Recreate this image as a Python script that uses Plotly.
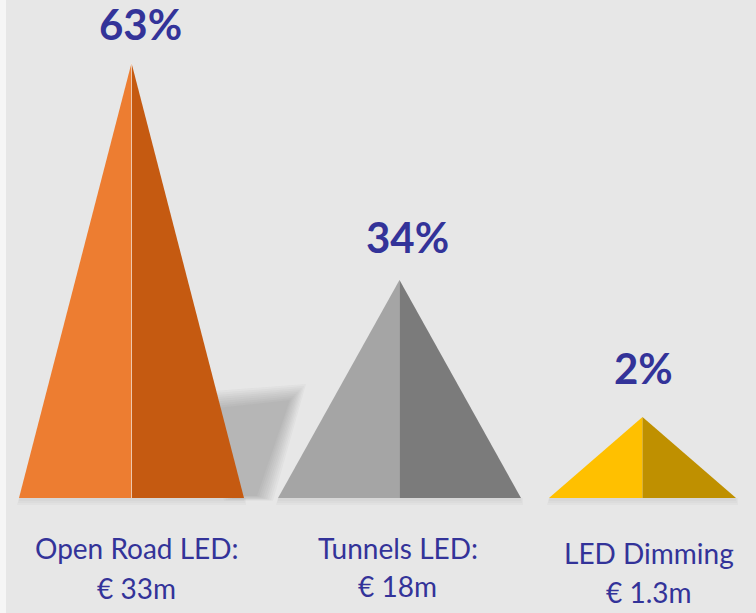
import plotly.graph_objects as go

# ---- data ----
categories = ["Open Road LED:", "Tunnels LED:", "LED Dimming"]
amounts = ["€ 33m", "€ 18m", "€ 1.3m"]
shares = [63, 34, 2]                 # percent labels
pyramid_height = [435, 218, 81]      # visual pyramid heights

# ---- styles / layout ----
centers = [131.5, 399.5, 642.5]
half_widths = [112.5, 121.5, 93.5]
base_y = 115
left_colors = ["#ED7D31", "#A5A5A5", "#FFC000"]
right_colors = ["#C55A11", "#7B7B7B", "#BF9000"]
text_color = "#333399"
bg = "#E7E7E7"
W, H = 756, 613

fig = go.Figure()

# soft blurred shadow behind first pyramid (layered)
for k in range(8, -1, -1):
    d = k * 2.0
    xs = [216 - d, 290 + d, 257 + d, 240 - d, 216 - d]
    ys = [205 + d, 213 + d, 117 - d * 0.3, 117 - d * 0.3, 205 + d]
    fig.add_trace(go.Scatter(x=xs, y=ys, fill="toself", mode="lines",
                             line=dict(width=0), fillcolor="rgba(100,100,100,0.045)",
                             hoverinfo="skip", showlegend=False))

# base shadows
for c, hw in zip(centers, half_widths):
    for k in range(3):
        fig.add_trace(go.Scatter(x=[c - hw - k, c + hw + k, c + hw + k, c - hw - k, c - hw],
                                 y=[base_y, base_y, base_y - 3 - 2 * k, base_y - 3 - 2 * k, base_y],
                                 fill="toself", mode="lines", line=dict(width=0),
                                 fillcolor="rgba(150,150,150,0.07)",
                                 hoverinfo="skip", showlegend=False))

for i, cat in enumerate(categories):
    c, hw, h = centers[i], half_widths[i], pyramid_height[i]
    top = base_y + h
    fig.add_trace(go.Scatter(x=[c - hw, c, c, c - hw], y=[base_y, top, base_y, base_y],
                             fill="toself", mode="lines", line=dict(width=0),
                             fillcolor=left_colors[i], name=cat, showlegend=False,
                             hoverinfo="skip"))
    fig.add_trace(go.Scatter(x=[c, c + hw, c, c], y=[top, base_y, base_y, top],
                             fill="toself", mode="lines", line=dict(width=0),
                             fillcolor=right_colors[i], name=cat, showlegend=False,
                             hoverinfo="skip"))
    if i == 0:
        fig.add_trace(go.Scatter(x=[c, c], y=[base_y, top], mode="lines",
                                 line=dict(color="rgba(255,255,255,0.55)", width=1),
                                 hoverinfo="skip", showlegend=False))

label_y = [589, 376, 245]
label_x = [140, 407, 643]
cat_pos = [(137, 65), (398, 65), (649, 60)]
amt_pos = [(136, 25), (397, 27), (649, 21)]

for i in range(3):
    fig.add_annotation(x=label_x[i], y=label_y[i], text=f"<b>{shares[i]}%</b>",
                       showarrow=False, font=dict(size=42, color=text_color, family="Lato"),
                       xanchor="center", yanchor="middle")
    fig.add_annotation(x=cat_pos[i][0], y=cat_pos[i][1], text=categories[i],
                       showarrow=False, font=dict(size=28, color=text_color, family="Lato"),
                       xanchor="center", yanchor="middle")
    fig.add_annotation(x=amt_pos[i][0], y=amt_pos[i][1], text=amounts[i],
                       showarrow=False, font=dict(size=28, color=text_color, family="Lato"),
                       xanchor="center", yanchor="middle")

# left white strip
fig.add_shape(type="rect", x0=0, x1=6, y0=0, y1=H, xref="x", yref="y",
              fillcolor="#F6F6F6", line=dict(width=0), layer="below")

fig.update_layout(
    width=W, height=H, margin=dict(l=0, r=0, t=0, b=0),
    paper_bgcolor=bg, plot_bgcolor=bg,
    xaxis=dict(range=[0, W], visible=False, fixedrange=True),
    yaxis=dict(range=[0, H], visible=False, fixedrange=True),
    showlegend=False,
)

fig.write_html("out.html")
